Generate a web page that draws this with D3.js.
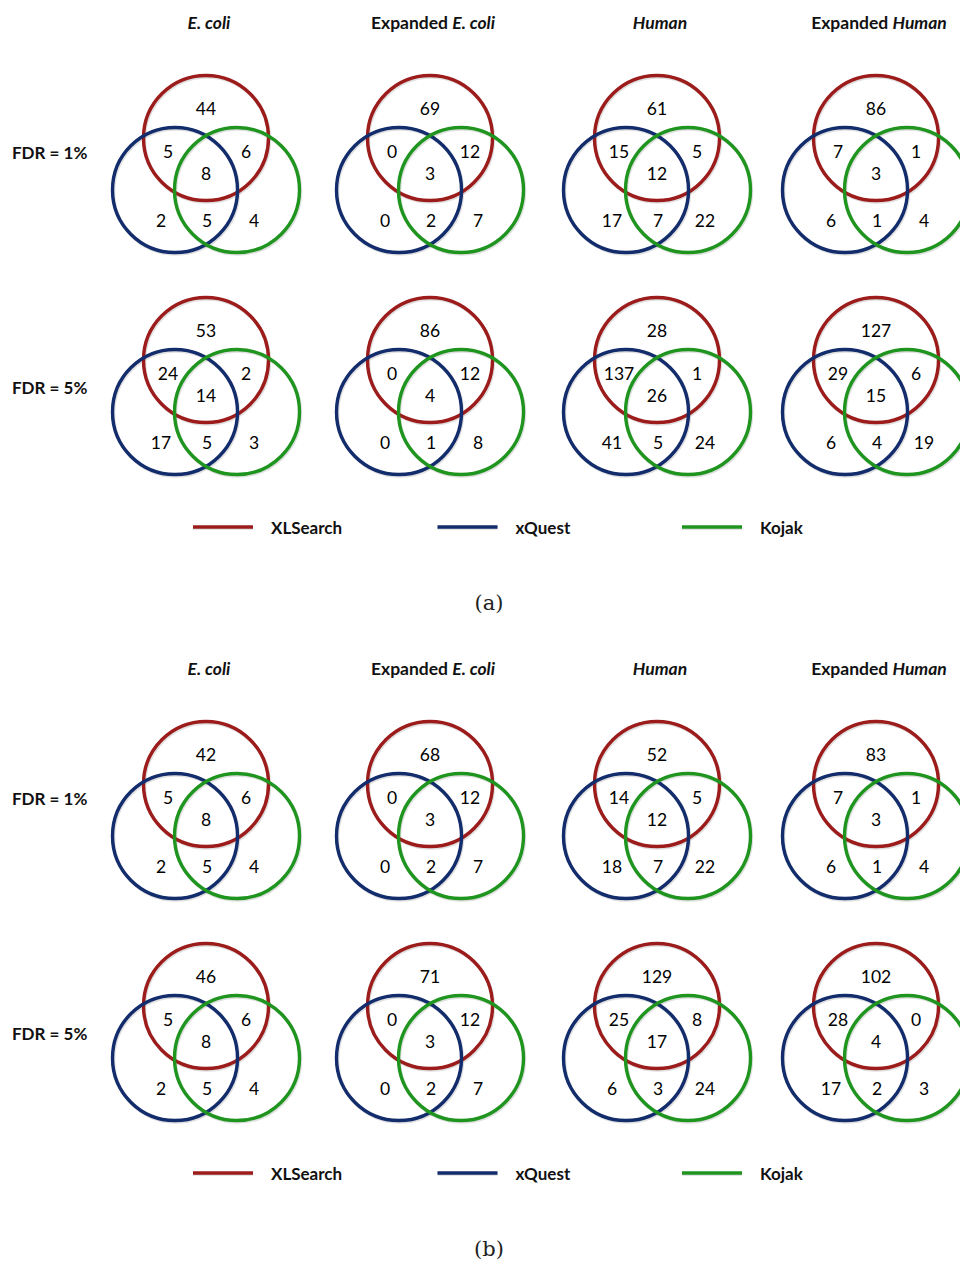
<!DOCTYPE html>
<html>
<head>
<meta charset="utf-8">
<title>venn-fdr</title>
<style>
body { margin: 0; background: #fff; font-family: Lato, "Open Sans", sans-serif; }
.num { font-size: 17.5px; fill: #000; }
.head { font-size: 17.5px; font-weight: bold; fill: #111; }
.rowlab { font-size: 17px; font-weight: bold; fill: #111; }
.leg { font-size: 17px; font-weight: bold; fill: #111; }
.cap { font-family: "DejaVu Serif", serif; font-size: 21px; fill: #222; }
</style>
</head>
<body>
<script src="https://cdn.jsdelivr.net/npm/d3@7"></script>
<script>
// datasets (columns), thresholds (rows), panels
var datasets = ["E. coli", "Expanded E. coli", "Human", "Expanded Human"];
var fdrs = ["FDR = 1%", "FDR = 5%"];
var panels = ["(a)", "(b)"];
var tools = ["XLSearch", "xQuest", "Kojak"];

// region order: XLSearch only, XL∩xQ, XL∩Kojak, all three, xQuest only, xQ∩Kojak, Kojak only
var panelA1 = [[44, 5, 6, 8, 2, 5, 4], [69, 0, 12, 3, 0, 2, 7], [61, 15, 5, 12, 17, 7, 22], [86, 7, 1, 3, 6, 1, 4]];
var panelA5 = [[53, 24, 2, 14, 17, 5, 3], [86, 0, 12, 4, 0, 1, 8], [28, 137, 1, 26, 41, 5, 24], [127, 29, 6, 15, 6, 4, 19]];
var panelB1 = [[42, 5, 6, 8, 2, 5, 4], [68, 0, 12, 3, 0, 2, 7], [52, 14, 5, 12, 18, 7, 22], [83, 7, 1, 3, 6, 1, 4]];
var panelB5 = [[46, 5, 6, 8, 2, 5, 4], [71, 0, 12, 3, 0, 2, 7], [129, 25, 8, 17, 6, 3, 24], [102, 28, 0, 4, 17, 2, 3]];

var counts = { "(a)": [panelA1, panelA5], "(b)": [panelB1, panelB5] };

var width = 960, height = 1261;
var colors = d3.scaleOrdinal().domain(tools).range(["#9c1c1c", "#132c6c", "#1f951f"]);

var svg = d3.select("body").append("svg")
    .attr("width", width).attr("height", height);

// layout scales
var x = d3.scaleOrdinal().domain(datasets).range([206, 430, 657, 876]);
var panelY = d3.scalePoint().domain(panels).range([190, 836]);
var rowY = d3.scalePoint().domain(fdrs).range([0, 222]);

var r = 62.5;
// circle centre offsets from the venn base point
var circ = { "XLSearch": [0, -52], "xQuest": [-31, 0], "Kojak": [31, 0] };
// label offsets for each region
var spots = [[0, -82], [-38, -39], [40, -39], [0, -17], [-45, 30], [1, 30], [48, 30]];

panels.forEach(function (p) {
    var base = panelY(p);

    // column headers, species names in italics
    datasets.forEach(function (d) {
        var t = svg.append("text").attr("class", "head")
            .attr("x", x(d) + 3).attr("y", base - 168)
            .attr("text-anchor", "middle").attr("dominant-baseline", "central");
        if (d.indexOf("Expanded") === 0) {
            t.append("tspan").text("Expanded ");
            t.append("tspan").style("font-style", "italic").text(d.replace("Expanded ", ""));
        } else {
            t.append("tspan").style("font-style", "italic").text(d);
        }
    });

    fdrs.forEach(function (f, fi) {
        var cy = base + rowY(f);
        svg.append("text").attr("class", "rowlab")
            .attr("x", 12).attr("y", cy - (fi === 0 ? 38 : 25))
            .attr("dominant-baseline", "central")
            .text(f);

        datasets.forEach(function (d, di) {
            var cx = x(d);
            var g = svg.append("g").attr("transform", "translate(" + cx + "," + cy + ")");

            g.selectAll("circle.shadow")
                .data(tools).enter().append("circle")
                .attr("cx", function (t) { return circ[t][0] + 1; })
                .attr("cy", function (t) { return circ[t][1] + 1.5; })
                .attr("r", r)
                .attr("fill", "none")
                .attr("stroke", "#000").attr("stroke-opacity", 0.12)
                .attr("stroke-width", 3.5);

            g.selectAll("circle.set")
                .data(tools).enter().append("circle")
                .attr("class", "set")
                .attr("cx", function (t) { return circ[t][0]; })
                .attr("cy", function (t) { return circ[t][1]; })
                .attr("r", r)
                .attr("fill", "none")
                .attr("stroke", function (t) { return colors(t); })
                .attr("stroke-width", 3.4);

            g.selectAll("text.num")
                .data(counts[p][fi][di]).enter().append("text")
                .attr("class", "num")
                .attr("x", function (v, i) { return spots[i][0]; })
                .attr("y", function (v, i) { return spots[i][1]; })
                .attr("text-anchor", "middle").attr("dominant-baseline", "central")
                .text(function (v) { return v; });
        });
    });

    // legend
    var legY = base + rowY(fdrs[1]) + 115;
    var legX = d3.scalePoint().domain(tools).range([193, 682]);
    var leg = svg.append("g").selectAll("g")
        .data(tools).enter().append("g")
        .attr("transform", function (t) { return "translate(" + legX(t) + "," + legY + ")"; });
    leg.append("line")
        .attr("x1", 0).attr("x2", 60).attr("y1", 1).attr("y2", 1)
        .attr("stroke", "#000").attr("stroke-opacity", 0.15).attr("stroke-width", 3.5);
    leg.append("line")
        .attr("x1", 0).attr("x2", 60)
        .attr("stroke", function (t) { return colors(t); }).attr("stroke-width", 3.5);
    leg.append("text").attr("class", "leg")
        .attr("x", 78).attr("dominant-baseline", "central")
        .text(function (t) { return t; });

    svg.append("text").attr("class", "cap")
        .attr("x", 489).attr("y", legY + 76)
        .attr("text-anchor", "middle").attr("dominant-baseline", "central")
        .text(p);
});
</script>
</body>
</html>
